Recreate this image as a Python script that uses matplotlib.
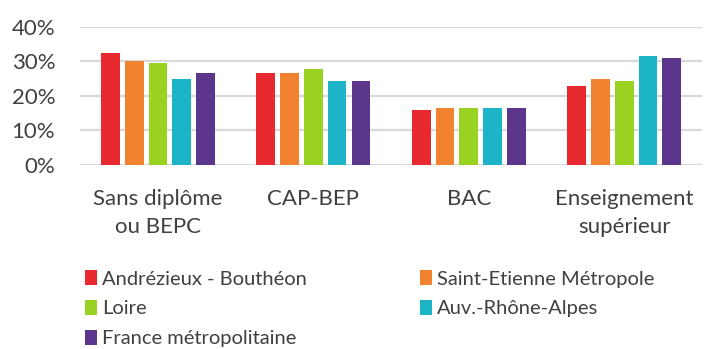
import numpy as np
import matplotlib.pyplot as plt
from matplotlib.ticker import PercentFormatter

plt.rcParams['font.family'] = ['Lato', 'DejaVu Sans']

categories = ["Sans diplôme\nou BEPC", "CAP-BEP", "BAC", "Enseignement\nsupérieur"]
zones = ["Andrézieux - Bouthéon", "Saint-Etienne Métropole", "Loire",
         "Auv.-Rhône-Alpes", "France métropolitaine"]
andrezieux = [32.3, 26.6, 15.8, 23.0]
saint_etienne = [30.2, 26.6, 16.5, 25.0]
loire = [29.4, 27.9, 16.5, 24.3]
auvergne = [25.0, 24.4, 16.5, 31.5]
france = [26.6, 24.4, 16.5, 30.9]
colors = ["#E8292F", "#F08230", "#99D220", "#1EB4C8", "#5C358C"]

series = [andrezieux, saint_etienne, loire, auvergne, france]

fig = plt.figure(figsize=(7.04, 3.49), dpi=100)
ax = fig.add_axes([0.114, 0.527, 0.883, 0.3965])

x = np.arange(len(categories))
pitch = 0.153
width = 0.12
bars = []
for i, (vals, c) in enumerate(zip(series, colors)):
    b = ax.bar(x + (i - 2) * pitch, vals, width, color=c, label=zones[i], zorder=3)
    bars.append(b)

ax.set_ylim(0, 40)
ax.set_xlim(-0.5, 3.5)
ax.set_yticks([0, 10, 20, 30, 40])
ax.yaxis.set_major_formatter(PercentFormatter(decimals=0))
ax.grid(axis='y', color='#D9D9D9', linewidth=1.6, zorder=0)
for s in ax.spines.values():
    s.set_visible(False)
ax.tick_params(axis='both', length=0, colors='#404040', labelsize=16)
ax.tick_params(axis='y', pad=18)
ax.tick_params(axis='x', pad=17)
ax.set_xticks(x)
ax.set_xticklabels(categories, linespacing=1.55)

# two legend columns, placed separately
leg_kw = dict(loc='upper left', frameon=False, fontsize=14.5, labelcolor='#404040',
              handlelength=0.6, handleheight=0.75, handletextpad=0.25,
              labelspacing=0.62, borderaxespad=0, borderpad=0)
fig.legend([bars[0], bars[2], bars[4]], [zones[0], zones[2], zones[4]],
           bbox_to_anchor=(0.121, 0.226), **leg_kw)
fig.legend([bars[1], bars[3]], [zones[1], zones[3]],
           bbox_to_anchor=(0.597, 0.226), **leg_kw)

fig.savefig("out.png", dpi=100)
